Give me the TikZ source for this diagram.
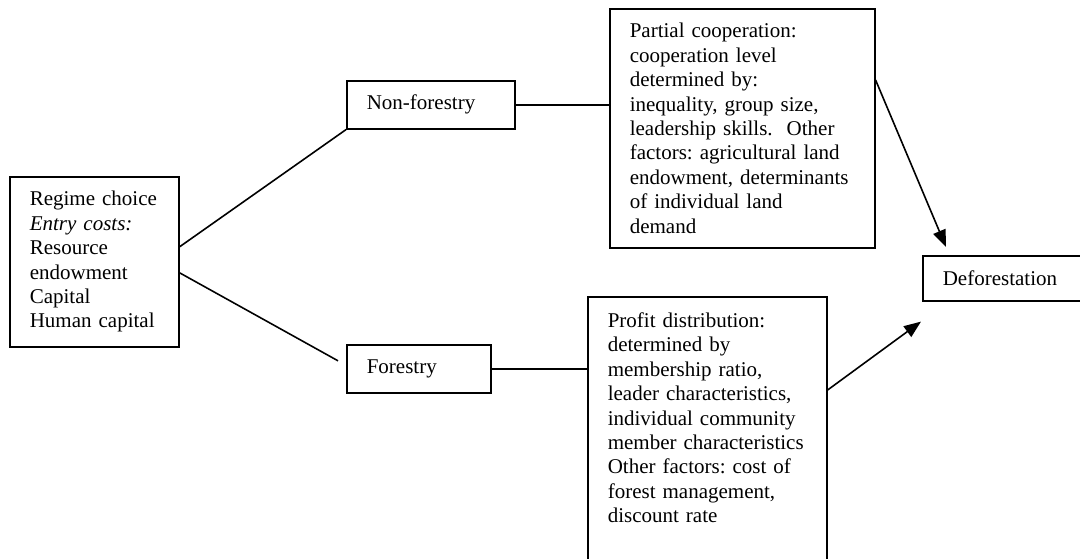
\documentclass[tikz,border=0pt]{standalone}
\usepackage{fontspec}
\setmainfont{Liberation Serif}
\usetikzlibrary{arrows.meta,positioning}

\begin{document}
\begin{tikzpicture}[x=1pt,y=-1pt,
    box/.style={draw,line width=1.6pt,anchor=north west,align=left,
      inner xsep=20pt,inner ysep=0pt,font=\fontsize{21}{24.4}\selectfont\frenchspacing},
    link/.style={line width=1.6pt},
    arr/.style={line width=1.6pt,-{Triangle[length=17pt,width=13pt]}}]
  \useasboundingbox (0,0) rectangle (1080,558);
  \node[box,text width=129pt,minimum height=170pt] (regime) at (9,176)
    {Regime choice\\ \textit{Entry costs:}\\ Resource\\ endowment\\ Capital\\ Human capital};
  \node[box,text width=128pt,minimum height=48pt] (nonforestry) at (346,80) {Non-forestry};
  \node[box,text width=104pt,minimum height=48pt] (forestry) at (346,344) {Forestry};
  \node[box,text width=225pt,minimum height=239pt] (partial) at (609,8)
    {Partial cooperation:\\ cooperation level\\ determined by:\\ inequality, group size,\\
     leadership skills.\ \ Other\\ factors: agricultural land\\ endowment, determinants\\
     of individual land\\ demand};
  \node[box,text width=199pt,inner ysep=16pt] (profit) at (587,296)
    {Profit distribution:\\ determined by\\ membership ratio,\\ leader characteristics,\\
     individual community\\ member characteristics\\ Other factors: cost of\\
     forest management,\\ discount rate\\[60pt]\mbox{}};
  \node[box,text width=120pt,minimum height=45pt] (deforestation) at (922,255) {Deforestation};
  % branches of the regime choice
  \draw[link] ([yshift=15pt]regime.east) -- (nonforestry.south west);
  \draw[link] ([yshift=-11pt]regime.east) -- ([shift={(-8pt,8pt)}]forestry.west);
  \draw[link] (nonforestry.east) -- (nonforestry.east -| partial.west);
  \draw[link] (forestry.east) -- (forestry.east -| profit.west);
  % outcomes
  \draw[arr] ([yshift=-72pt]partial.north east) -- ([shift={(24pt,8pt)}]deforestation.north west);
  \draw[arr] ([yshift=-94pt]profit.north east) -- ([shift={(-1pt,-20pt)}]deforestation.south west);
\end{tikzpicture}
\end{document}
